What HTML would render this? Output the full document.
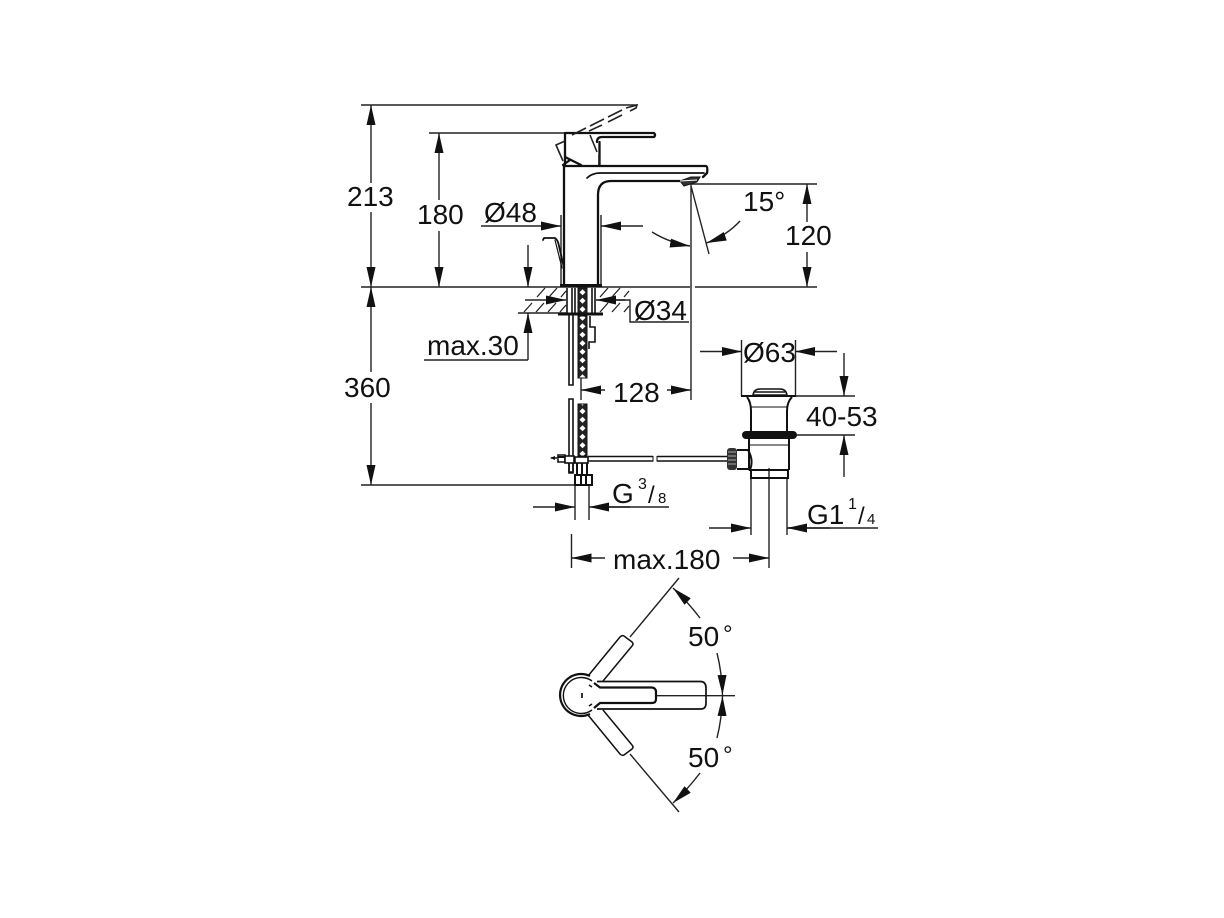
<!DOCTYPE html>
<html><head><meta charset="utf-8"><style>
html,body{margin:0;padding:0;background:#fff}
svg{display:block}
text{font-family:"Liberation Sans",sans-serif;font-size:28px;fill:#111}
</style></head><body>
<svg width="1224" height="918" viewBox="0 0 1224 918" xmlns="http://www.w3.org/2000/svg">
<defs>
<marker id="a" viewBox="0 0 20 9" markerWidth="20" markerHeight="9" refX="20" refY="4.500" orient="auto" markerUnits="userSpaceOnUse"><path d="M0 0L20 4.500L0 9z" fill="#111"/></marker>
<pattern id="br" width="9" height="8.500" patternUnits="userSpaceOnUse" x="578" y="288"><rect width="9" height="8.500" fill="#222"/><path d="M4.500 1.200L7.500 4.250L4.500 7.300L1.500 4.250z" fill="#fff"/></pattern>
</defs>
<rect width="1224" height="918" fill="#fff"/>

<!-- thin dimension lines -->
<g fill="none" stroke="#222" stroke-width="1.400">
<path d="M361 105H637M429 133H565M361 287H690M695 287H817M361 485H578"/>
<path d="M691 184H817M691 184V400M691 186L709 254"/>
<path d="M561 215V285M601 215V285"/>
<path d="M518 313H566M424 360H528"/>
<path d="M616 300H630V322H689"/>
<path d="M581 378V400"/>
<path d="M741.500 340V396M795.500 340V396M795 396H855M795 435H855"/>
<path d="M575 485V520M589 485V520M571.500 534V568M769 468V568"/>
<path d="M751 478V535M787 478V535"/>
<path d="M609 507H669M787 528H878"/>
<path d="M655.500 695.700H735"/>
<path d="M630 637L679 578M630 754L679 812"/>
</g>

<!-- arrows -->
<g fill="none" stroke="#222" stroke-width="1.400" marker-end="url(#a)">
<line x1="371" y1="183" x2="371" y2="105"/>
<line x1="371" y1="212" x2="371" y2="287"/>
<line x1="371" y1="372" x2="371" y2="287"/>
<line x1="371" y1="403" x2="371" y2="485"/>
<line x1="439" y1="200" x2="439" y2="133"/>
<line x1="439" y1="231" x2="439" y2="287"/>
<line x1="807" y1="222" x2="807" y2="184"/>
<line x1="807" y1="252" x2="807" y2="287"/>
<line x1="481" y1="226" x2="561" y2="226"/>
<line x1="643" y1="226" x2="601" y2="226"/>
<line x1="528" y1="245" x2="528" y2="287"/>
<line x1="528" y1="360" x2="528" y2="313"/>
<line x1="525" y1="300" x2="566" y2="300"/>
<line x1="625" y1="300" x2="596" y2="300"/>
<line x1="605" y1="390" x2="581" y2="390"/>
<line x1="667" y1="390" x2="691" y2="390"/>
<line x1="700" y1="351.500" x2="742" y2="351.500"/>
<line x1="837" y1="351.500" x2="795" y2="351.500"/>
<line x1="844" y1="353" x2="844" y2="396"/>
<line x1="844" y1="477" x2="844" y2="435"/>
<line x1="533" y1="507" x2="575" y2="507"/>
<line x1="630" y1="507" x2="589" y2="507"/>
<line x1="709" y1="528" x2="751" y2="528"/>
<line x1="830" y1="528" x2="787" y2="528"/>
<line x1="605" y1="558" x2="571.500" y2="558"/>
<line x1="733" y1="558" x2="769" y2="558"/>
<path d="M652 232Q670 243 690 246"/>
<path d="M740 221Q726 236 706.500 243"/>
<path d="M700 618Q687 601 673 588"/>
<path d="M717 653Q722 673 722.500 695"/>
<path d="M717 738Q722 718 722.500 696"/>
<path d="M700 773Q687 790 673 803"/>
</g>

<!-- hatching -->
<g stroke="#222" stroke-width="1.300" fill="none">
<path d="M537 297l8-9M549 297l8-9M561 297l5-6M600 297l8-9M612 297l8-9M624 297l5-6"/>
<path d="M524 312l8-9M536 312l8-9M548 312l8-9M560 312l6-7M600 312l8-9M612 312l8-9M624 312l5-6"/>
</g>

<!-- faucet -->
<g fill="none" stroke="#111" stroke-width="2.300" stroke-linejoin="round" stroke-linecap="round">
<path d="M564 286V166H706Q708 167 707 173L703 177"/>
<path d="M587 178Q592 173 600 173H704" stroke-width="1.700"/>
<path d="M598 286V195Q598 181 611 181H680"/>
<path d="M565 166V133H654Q656 135 654 137H602Q597 137 597 142"/>
<path d="M599.500 165V142"/>
<path d="M565 157L581 165M563 165L570 160"/>
<path d="M543 240L544 238H555Q558 240 559 246L564 268" stroke-width="1.800"/>
<path d="M555 240L562 268" stroke-width="1.200"/>
</g>
<path d="M680 181L691 177H700L697 182L684 186Z" fill="#333" stroke="#111"/>
<path d="M680 181L697 180" stroke="#fff" stroke-width="1"/>

<!-- dashed lever -->
<g fill="none" stroke="#222" stroke-width="1.600">
<path d="M563 161L556 145L565 141"/>
<path d="M572 135L586 128M590 126L604 119M608 117L622 110M626 108L637 105L636 108L630 111M622 115L608 122M602 125L589 131" />
<path d="M590 135L597 152M599 155V165"/>
</g>

<!-- tailpiece upper -->
<g fill="none" stroke="#111" stroke-width="1.600">
<path d="M560 285.500H602" stroke-width="3"/>
<path d="M558 314H603" stroke-width="3"/>
<path d="M567 288V313M572 288V313M575 288V313" />
<path d="M592 288V313M595 288V313" />
<path d="M569 314V385H573V314" />
<path d="M590 316V327H595V342H589V349" />
<path d="M569 399H573V473H569Z"/>
</g>
<rect x="578" y="288" width="9" height="25" fill="url(#br)" stroke="#111"/>
<rect x="578" y="316" width="9" height="62" fill="url(#br)" stroke="#111"/>
<rect x="578" y="404" width="9" height="52" fill="url(#br)" stroke="#111"/>

<!-- lower connector -->
<g fill="none" stroke="#111" stroke-width="1.600">
<path d="M551 458H558V455H565V462H558V459"/>
<path d="M558 457H574" stroke-width="2"/>
<rect x="565" y="456" width="9" height="7" fill="#fff"/>
<path d="M569 463V472H573V463"/>
<rect x="575" y="457" width="13" height="6"/>
<path d="M577 463V475M582 463V475M587 463V475" stroke-width="2"/>
<path d="M575 475H592V485H575ZM581 475V485M586 475V485" stroke-width="2"/>
<path d="M588 456.500H653M588 461H653M657 456.500H727M657 461H727" stroke-width="1.500"/>
<path d="M653 456V461.500M657 456V461.500" stroke-width="1"/>
</g>
<path d="M550 458l5-2v4z" fill="#111"/>

<!-- drain -->
<g fill="none" stroke="#111" stroke-width="2">
<path d="M741 396H796"/>
<path d="M753 395Q754 389 760 389H780Q786 389 787 395" stroke-width="1.600"/>
<path d="M755 392H785M754 395H786" stroke-width="1.600"/>
<path d="M747 397Q751 402 751 411V431M792 397Q787 402 787 411V431"/>
<path d="M751 407H787" stroke-width="1"/>
<path d="M749 439V470M789 439V470"/>
<path d="M749 445H789" stroke-width="1"/>
<path d="M737 450H748Q754 460 750 470H789"/>
<path d="M737 469H749"/>
<rect x="751" y="470" width="37" height="8" stroke-width="2"/>
</g>
<rect x="742" y="431" width="55" height="8" rx="4" fill="#111"/>
<rect x="727" y="448" width="10" height="22" rx="3" fill="#333"/>
<path d="M728 452H736M728 456H736M728 460H736M728 464H736" stroke="#aaa" stroke-width="1"/>

<!-- top view -->
<g fill="none" stroke="#111" stroke-width="1.800" stroke-linejoin="round">
<path d="M590 676A21 21 0 1 0 590 714" stroke-width="2.200"/>
<path d="M592 681A18 18 0 1 0 592 710" stroke-width="1.400"/>
<path d="M597 681.500H701Q706 682 706 688V703Q706 709 701 709H597" stroke-width="1.700"/>
<path d="M594 683L600 687.500H652Q656 688 656 692V699Q656 703 652 703H600L594 708" stroke-width="2.200"/>
<path d="M588 676L620 637Q622 635 624 636L632 642Q634 644 632 646L603 681" stroke-width="1.500"/>
<path d="M588 715L620 754Q622 756 624 755L632 749Q634 747 632 745L603 710" stroke-width="1.500"/>
</g>
<path d="M581 693h2v5h-2z" fill="#333"/>
<path d="M589 685l3 2M589 706l3-2" stroke="#111" stroke-width="1.500"/>

<!-- labels -->
<text x="347" y="206">213</text>
<text x="417" y="224">180</text>
<text x="484" y="222">Ø48</text>
<text x="743" y="211">15°</text>
<text x="785" y="245">120</text>
<text x="634" y="320">Ø34</text>
<text x="427" y="355">max.30</text>
<text x="344" y="397">360</text>
<text x="613" y="402">128</text>
<text x="743" y="362">Ø63</text>
<text x="806" y="426">40-53</text>
<text x="612" y="503">G</text>
<text x="638" y="489" style="font-size:16px">3</text>
<text x="648" y="503" style="font-size:24px">/</text>
<text x="658" y="503" style="font-size:15px">8</text>
<text x="807" y="524">G1</text>
<text x="848" y="509" style="font-size:16px">1</text>
<text x="858" y="524" style="font-size:24px">/</text>
<text x="867" y="524" style="font-size:15px">4</text>
<text x="613" y="569">max.180</text>
<text x="688" y="646">50</text>
<text x="723" y="642" style="font-size:24px">°</text>
<text x="688" y="767">50</text>
<text x="723" y="763" style="font-size:24px">°</text>
</svg>
</body></html>
